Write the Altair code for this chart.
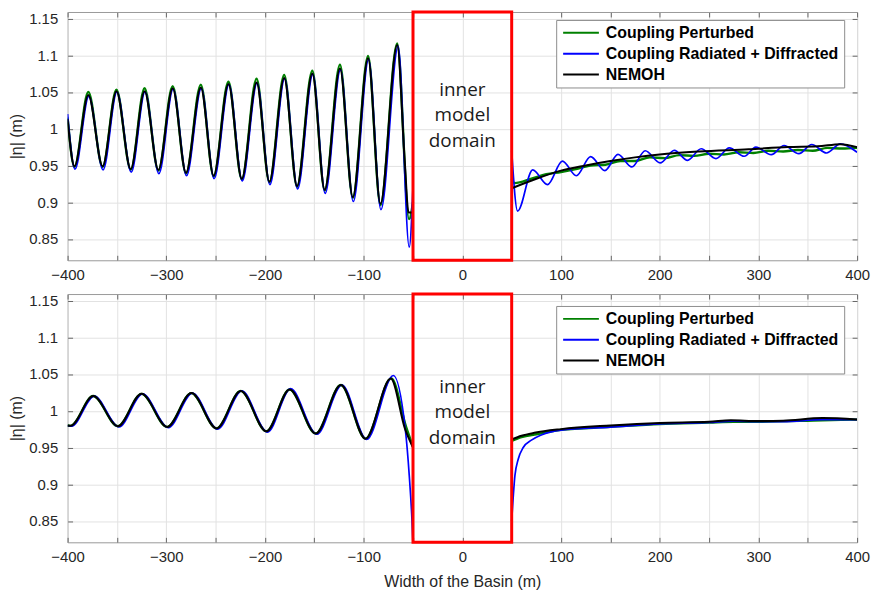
import altair as alt
import pandas as pd

SERIES = ["Coupling Perturbed", "Coupling Radiated + Diffracted", "NEMOH"]
COLORS = ["#008000", "#0000ff", "#000000"]
WIDTHS = [2.4, 1.7, 2.0]

X_DOMAIN = [-400, 400]
Y_DOMAIN = [0.821, 1.1588]
X_GRID = list(range(-400, 401, 50))
Y_TICKS = [0.85, 0.9, 0.95, 1.0, 1.05, 1.1, 1.15]

# ---------------- top panel ----------------
T_GREEN_L_X = [-400, -393, -379, -364.5, -350.5, -336, -322, -308, -293.5, -280, -265, -252, -237, -223.5,
               -208.5, -195.5, -180.5, -167.5, -152, -139.5, -124, -111, -95.5, -83, -66, -54, -50]
T_GREEN_L_Y = [1.015, 0.948, 1.050, 0.948, 1.053, 0.944, 1.055, 0.943, 1.058, 0.939, 1.060, 0.935, 1.064, 0.931,
               1.068, 0.927, 1.073, 0.921, 1.079, 0.916, 1.087, 0.906, 1.099, 0.896, 1.116, 0.877, 0.900]
T_BLUE_L_X = [-400, -392.5, -378.5, -364, -350, -335.5, -321.5, -307.5, -293, -279.5, -264.5, -251.5, -236.5, -223,
              -208, -195, -180, -167, -151.5, -139, -123.5, -110.5, -95, -82.5, -65, -53.8, -50]
T_BLUE_L_Y = [1.020, 0.945, 1.044, 0.944, 1.050, 0.941, 1.050, 0.939, 1.054, 0.936, 1.055, 0.932, 1.060, 0.929,
              1.062, 0.924, 1.068, 0.918, 1.074, 0.912, 1.080, 0.901, 1.094, 0.890, 1.112, 0.839, 0.921]
T_BLACK_L_X = [-400, -393, -379, -364.5, -350.5, -336, -322, -308, -293.5, -280, -265, -252, -237, -223.5,
               -208.5, -195.5, -180.5, -167.5, -152, -139.5, -124, -111, -95.5, -83, -66, -58.5, -54.5, -50]
T_BLACK_L_Y = [1.013, 0.949, 1.046, 0.949, 1.051, 0.945, 1.051, 0.944, 1.055, 0.940, 1.056, 0.936, 1.061, 0.932,
               1.063, 0.928, 1.069, 0.922, 1.075, 0.917, 1.082, 0.907, 1.096, 0.898, 1.114, 0.959, 0.886, 0.886]

T_GREEN_R_X = [50, 53, 70, 85, 100, 115, 130, 145, 160, 175, 190, 205, 220, 235, 250, 265, 280, 295, 310, 325,
               340, 355, 370, 385, 400]
T_GREEN_R_Y = [0.932, 0.926, 0.932, 0.938, 0.941, 0.945, 0.950, 0.951, 0.956, 0.956, 0.961, 0.960, 0.964, 0.963,
               0.966, 0.965, 0.968, 0.967, 0.970, 0.969, 0.971, 0.970, 0.974, 0.973, 0.974]
T_BLUE_R_X = [50, 56, 71.3, 86.3, 101.4, 115.5, 130, 144.4, 157.7, 171.8, 185.3, 200.4, 214.8, 228.2, 242, 257,
              270.5, 285.6, 297.4, 313, 326, 341, 354, 369, 383, 400]
T_BLUE_R_Y = [0.970, 0.888, 0.944, 0.924, 0.956, 0.936, 0.962, 0.943, 0.965, 0.948, 0.970, 0.9535, 0.9705, 0.957,
              0.9727, 0.9593, 0.974, 0.9625, 0.975, 0.9647, 0.9772, 0.966, 0.9785, 0.967, 0.9794, 0.968]
T_BLACK_R_X = [50, 75, 100, 125, 150, 175, 200, 240, 290, 330, 360, 383, 400]
T_BLACK_R_Y = [0.919, 0.932, 0.943, 0.950, 0.956, 0.961, 0.965, 0.969, 0.972, 0.975, 0.976, 0.979, 0.975]

# ---------------- bottom panel ----------------
B_GREEN_L_X = [-400, -397, -374, -349, -325, -299, -274.5, -249, -224.5, -198.5, -175, -148.5, -123, -98, -72,
               -57, -50]
B_GREEN_L_Y = [0.980, 0.9795, 1.020, 0.979, 1.023, 0.978, 1.024, 0.976, 1.027, 0.972, 1.029, 0.969, 1.035, 0.962,
               1.044, 0.978, 0.951]
B_BLUE_L_X = [-400, -396, -373, -348, -324, -298, -273.5, -248, -223.5, -197.5, -174, -147.5, -122, -97, -70,
              -57.8, -53.8, -51.1, -50]
B_BLUE_L_Y = [0.980, 0.979, 1.020, 0.978, 1.023, 0.977, 1.024, 0.975, 1.027, 0.971, 1.030, 0.968, 1.035, 0.961,
              1.048, 0.975, 0.912, 0.853, 0.818]
B_BLACK_L_X = [-400, -397, -374, -349, -325, -299, -274.5, -249, -224.5, -198.5, -175, -148.5, -123, -98, -72.5,
               -58, -50]
B_BLACK_L_Y = [0.980, 0.9795, 1.020, 0.979, 1.023, 0.978, 1.024, 0.976, 1.027, 0.972, 1.029, 0.969, 1.035, 0.962,
               1.044, 0.975, 0.950]

B_GREEN_R_X = [50, 60, 75, 100, 150, 200, 250, 275, 300, 365, 400]
B_GREEN_R_Y = [0.959, 0.964, 0.968, 0.974, 0.978, 0.982, 0.984, 0.985, 0.985, 0.987, 0.988]
B_BLUE_R_X = [50, 53.3, 56.6, 61.7, 70, 80, 100, 150, 200, 250, 275, 300, 325, 365, 400]
B_BLUE_R_Y = [0.850, 0.912, 0.934, 0.950, 0.960, 0.967, 0.9736, 0.9777, 0.982, 0.984, 0.986, 0.985, 0.985,
              0.988, 0.988]
B_BLACK_R_X = [50, 60, 73, 100, 150, 200, 250, 272, 300, 325, 365, 400]
B_BLACK_R_Y = [0.961, 0.966, 0.970, 0.975, 0.980, 0.9835, 0.985, 0.987, 0.986, 0.9865, 0.990, 0.988]

BOX_X = [-50, 50]
LABEL_TEXT = "inner\nmodel\ndomain"
LABEL_Y_TOP = 1.0526      # first text line
LABEL_Y_BOTTOM = 1.0322   # first text line


def long_df(parts):
    rows = []
    for series, seg, xs, ys in parts:
        for x, y in zip(xs, ys):
            rows.append({"x": x, "y": y, "series": series, "seg": seg})
    return pd.DataFrame(rows)


top_df = long_df([
    (SERIES[0], "L", T_GREEN_L_X, T_GREEN_L_Y), (SERIES[0], "R", T_GREEN_R_X, T_GREEN_R_Y),
    (SERIES[1], "L", T_BLUE_L_X, T_BLUE_L_Y), (SERIES[1], "R", T_BLUE_R_X, T_BLUE_R_Y),
    (SERIES[2], "L", T_BLACK_L_X, T_BLACK_L_Y), (SERIES[2], "R", T_BLACK_R_X, T_BLACK_R_Y),
])
bot_df = long_df([
    (SERIES[0], "L", B_GREEN_L_X, B_GREEN_L_Y), (SERIES[0], "R", B_GREEN_R_X, B_GREEN_R_Y),
    (SERIES[1], "L", B_BLUE_L_X, B_BLUE_L_Y), (SERIES[1], "R", B_BLUE_R_X, B_BLUE_R_Y),
    (SERIES[2], "L", B_BLACK_L_X, B_BLACK_L_Y), (SERIES[2], "R", B_BLACK_R_X, B_BLACK_R_Y),
])

TICK_STYLE = dict(ticks=True, tickSize=5, tickColor="#666666", tickWidth=1, offset=-5, domain=False)


def panel(df, label_y, x_title, legend_y):
    xscale = alt.Scale(domain=X_DOMAIN, nice=False)
    yscale = alt.Scale(domain=Y_DOMAIN, nice=False, zero=False)
    xaxis = alt.Axis(values=X_GRID, labelExpr="datum.value % 100 === 0 ? datum.label : ''",
                     title=x_title if x_title else "", labelPadding=7, titlePadding=9,
                     labelFlush=False, labelOverlap=False, **TICK_STYLE)
    yaxis = alt.Axis(values=Y_TICKS, format="~g", title="|η| (m)", labelPadding=10, titlePadding=4,
                     labelOverlap=False, **TICK_STYLE)
    legend = alt.Legend(title=None, orient="none", legendX=492, legendY=legend_y, fillColor="white",
                        strokeColor="#8c8c8c", padding=5, symbolType="M-1,0H5", symbolSize=144,
                        symbolStrokeWidth=2, labelFont="Liberation Sans", labelFontSize=16,
                        labelFontWeight="bold", labelColor="#000000", labelOffset=29, rowPadding=5,
                        labelLimit=400)
    color = alt.Color("series:N", scale=alt.Scale(domain=SERIES, range=COLORS), legend=legend)
    layers = []
    for s, w in zip(SERIES, WIDTHS):
        layers.append(
            alt.Chart(df).transform_filter(alt.datum.series == s)
            .mark_line(interpolate="monotone", strokeWidth=w, clip=True)
            .encode(x=alt.X("x:Q", scale=xscale, axis=xaxis),
                    y=alt.Y("y:Q", scale=yscale, axis=yaxis),
                    color=color, detail="seg:N")
        )
    box_df = pd.DataFrame({"x0": [BOX_X[0]], "x1": [BOX_X[1]], "y0": [Y_DOMAIN[0]], "y1": [Y_DOMAIN[1]]})
    box = alt.Chart(box_df).mark_rect(filled=False, stroke="#ff0000", strokeWidth=3).encode(
        x=alt.X("x0:Q", scale=xscale, axis=xaxis), x2="x1:Q",
        y=alt.Y("y0:Q", scale=yscale, axis=yaxis), y2="y1:Q")
    lab_df = pd.DataFrame({"x": [0], "y": [label_y], "t": [LABEL_TEXT]})
    label = alt.Chart(lab_df).mark_text(lineBreak="\n", lineHeight=25.5, font="Open Sans", fontSize=19,
                                        color="#1a1a1a", align="center", baseline="middle").encode(
        x=alt.X("x:Q", scale=xscale, axis=xaxis), y=alt.Y("y:Q", scale=yscale, axis=yaxis), text="t:N")
    main = alt.layer(*layers, box, label)

    # inward box ticks on the top and right edges
    top_axis = alt.Axis(values=X_GRID, orient="top", labels=False, grid=False, title=None, **TICK_STYLE)
    right_axis = alt.Axis(values=Y_TICKS, orient="right", labels=False, grid=False, title=None, **TICK_STYLE)
    frame_ticks = alt.Chart(box_df).mark_point(opacity=0).encode(
        x=alt.X("x0:Q", scale=xscale, axis=top_axis),
        y=alt.Y("y0:Q", scale=yscale, axis=right_axis))
    return (alt.layer(main, frame_ticks)
            .resolve_axis(x="independent", y="independent")
            .properties(width=795, height=250))


top = panel(top_df, LABEL_Y_TOP, None, 8)
bottom = panel(bot_df, LABEL_Y_BOTTOM, "Width of the Basin (m)", 12)

chart = (
    alt.vconcat(top, bottom, spacing=9)
    .resolve_scale(color="independent")
    .resolve_legend(color="independent")
    .properties(padding={"left": 0, "top": 0, "right": 0, "bottom": 0})
    .configure_view(stroke="#999999", strokeWidth=1)
    .configure_axis(gridColor="#e2e2e2", gridWidth=1,
                    labelFont="Liberation Sans", labelFontSize=15, labelColor="#262626",
                    titleFont="Liberation Sans", titleFontSize=16, titleFontWeight="normal",
                    titleColor="#262626")
)

chart.save("out.html", embed_options={"renderer": "svg", "actions": False})
